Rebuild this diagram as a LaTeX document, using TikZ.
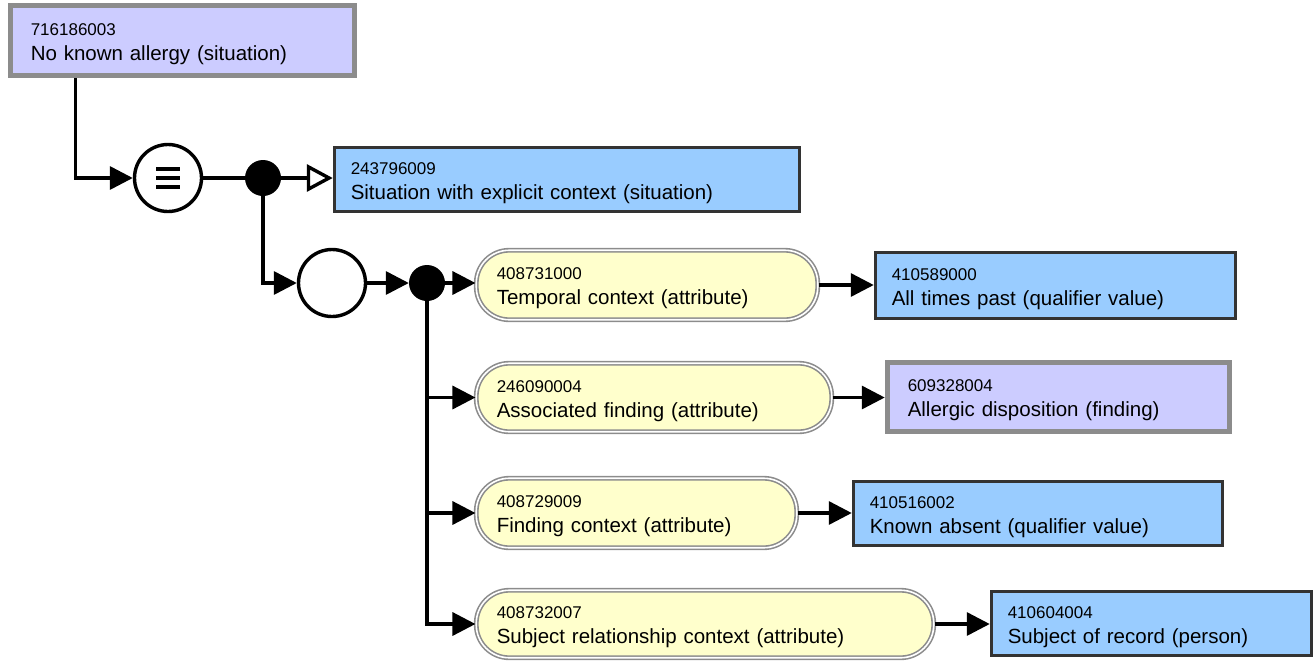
\documentclass[tikz,border=0pt]{standalone}
\usepackage{fontspec}
\setmainfont{Liberation Sans}
\usetikzlibrary{arrows.meta,positioning,calc}
\definecolor{primblue}{HTML}{99CCFF}
\definecolor{deflav}{HTML}{CCCCFF}
\definecolor{attryel}{HTML}{FFFFCC}
\newcommand{\sctid}[1]{{\fontsize{17}{20}\selectfont\rule{0pt}{18.5pt}#1}}

\begin{document}
\begin{tikzpicture}[x=1pt, y=-1pt,
  concept/.style={rectangle, align=left, inner ysep=0pt,
                  font=\fontsize{20.5}{25}\selectfont},
  prim/.style={concept, draw=black!80, line width=3pt, fill=primblue,
               inner xsep=16.5pt},
  defd/.style={concept, draw=black!45, line width=5pt, fill=deflav,
               inner xsep=20.5pt},
  attr/.style={concept, draw=black!45, double=white, line width=1.6pt,
               double distance=1.6pt, fill=attryel, rounded corners=33pt,
               inner xsep=20.5pt},
  grpnode/.style={circle, draw, line width=3.4pt, fill=white,
                  minimum size=67pt, inner sep=0pt},
  conj/.style={circle, fill=black, minimum size=36pt, inner sep=0pt},
  link/.style={line width=3.4pt},
  arr/.style={link, -{Triangle[length=23pt,width=23pt]}},
  isa/.style={link, -{Triangle[open,length=26pt,width=27pt,fill=white]}}
]
\useasboundingbox (0,0) rectangle (1314,662);

% focus concept and its definition
\node[defd, minimum width=344.5, minimum height=70.5, text width=303.5pt]
  (nka) at (182.5,40.5) {\sctid{716186003}\\No known allergy (situation)};
\node[grpnode] (eqv) at (168,178) {};
\foreach \dy in {-9,0,9}
  \draw[link] ([shift={(-12,\dy)}]eqv.center) -- ++(24,0);
\node[conj] (conj1) at (263,178) {};
\node[prim, minimum width=465.5, minimum height=64.5, text width=432.5pt]
  (swec) at (567,179.5) {\sctid{243796009}\\Situation with explicit context (situation)};

% attribute group
\node[grpnode] (grp) at (332,283) {};
\node[conj] (conj2) at (427,283) {};

\node[attr, minimum width=341.5, minimum height=69.5, text width=300.5pt]
  (attr1) at (647,285) {\sctid{408731000}\\Temporal context (attribute)};
\node[attr, minimum width=355.5, minimum height=68.5, text width=314.5pt]
  (attr2) at (654,397.5) {\sctid{246090004}\\Associated finding (attribute)};
\node[attr, minimum width=320.5, minimum height=69.5, text width=279.5pt]
  (attr3) at (636.5,513) {\sctid{408729009}\\Finding context (attribute)};
\node[attr, minimum width=457.5, minimum height=67.5, text width=416.5pt]
  (attr4) at (705,624) {\sctid{408732007}\\Subject relationship context (attribute)};

\node[prim, minimum width=360.5, minimum height=66.5, text width=327.5pt]
  (val1) at (1055.5,285.5) {\sctid{410589000}\\All times past (qualifier value)};
\node[defd, minimum width=342.5, minimum height=69.5, text width=301.5pt]
  (val2) at (1058.5,397) {\sctid{609328004}\\Allergic disposition (finding)};
\node[prim, minimum width=369.5, minimum height=64.5, text width=336.5pt]
  (val3) at (1038,513.5) {\sctid{410516002}\\Known absent (qualifier value)};
\node[prim, minimum width=320.5, minimum height=64.5, text width=287.5pt]
  (val4) at (1151.5,623.5) {\sctid{410604004}\\Subject of record (person)};

% connectors
\draw[arr] ([xshift=68]nka.south west) |- (eqv.west);
\draw[link] (eqv.east) -- (conj1);
\draw[isa] (conj1.east) -- (conj1.east -| swec.west);
\draw[arr] (conj1.south) |- (grp.west);
\draw[arr] (grp.east) -- (conj2.west);
\draw[arr] (conj2.east) -- (conj2.east -| attr1.west);
\foreach \i in {2,3,4}
  \draw[arr] (conj2.south) |- (attr\i.west);
\foreach \i in {1,...,4}
  \draw[arr] (attr\i.east) -- (attr\i.east -| val\i.west);
\end{tikzpicture}
\end{document}
